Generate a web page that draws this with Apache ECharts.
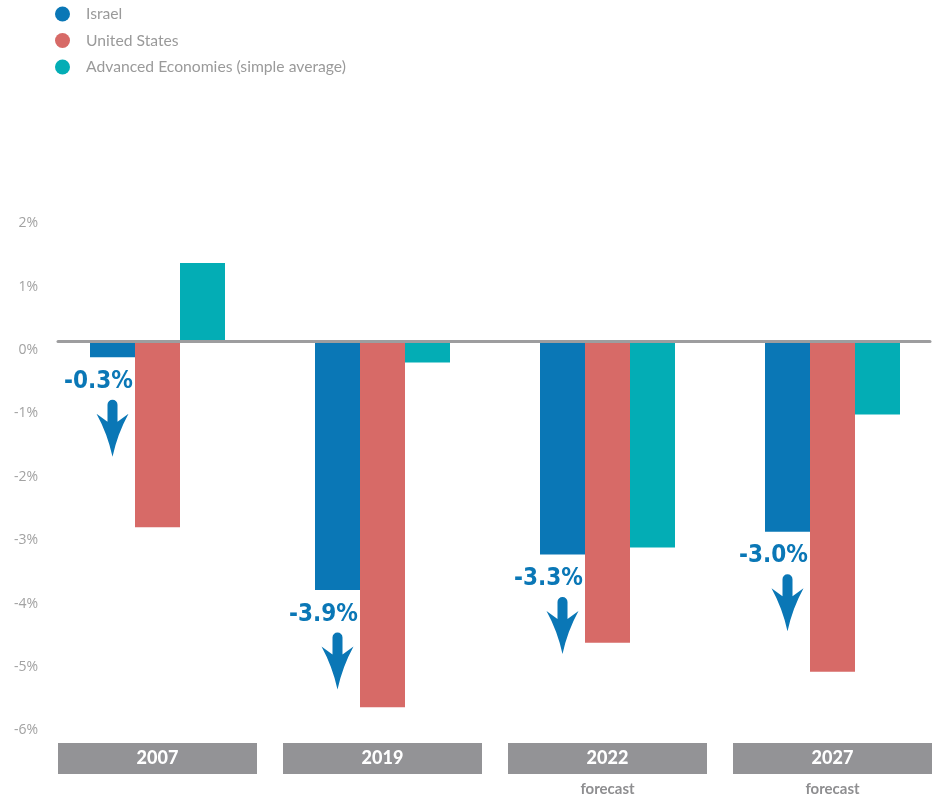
<!DOCTYPE html>
<html>
<head>
<meta charset="utf-8">
<script src="https://cdn.jsdelivr.net/npm/echarts@6/dist/echarts.min.js"></script>
<style>
html,body{margin:0;padding:0;background:#fff;}
#chart{width:938px;height:798px;}
</style>
</head>
<body>
<div id="chart"></div>
<script>
var categories = ['2007', '2019', '2022', '2027'];
var subLabels = ['', '', 'forecast', 'forecast'];
var seriesNames = ['Israel', 'United States', 'Advanced Economies (simple average)'];
var israel = [-0.25, -3.92, -3.36, -3.0];
var unitedStates = [-2.93, -5.77, -4.75, -5.21];
var advanced = [1.24, -0.33, -3.25, -1.15];
var israelLabels = ['-0.3%', '-3.9%', '-3.3%', '-3.0%'];
var yMin = -6, yMax = 2, yInterval = 1;

var colors = ['#0a77b6', '#d76a67', '#03adb5'];
var arrowPath = 'path://M11,5 A5,5 0 0 1 21,5 L21,22 L32,14 Q21,34 16,57 Q11,34 0,14 L11,22 Z';

var chart = echarts.init(document.getElementById('chart'), null, {renderer: 'canvas'});

var markData = categories.map(function (c, i) {
  return {
    coord: [c, israel[i]],
    symbol: arrowPath,
    symbolSize: [32, 57],
    symbolKeepAspect: false,
    symbolOffset: [0, 71],
    itemStyle: {color: colors[0]},
    label: {
      show: true,
      position: 'top',
      distance: 6,
      offset: [-14, 0],
      formatter: israelLabels[i]
    }
  };
});

var option = {
  animation: false,
  color: colors,
  legend: {
    orient: 'vertical',
    left: 50,
    top: 1,
    itemGap: 10.5,
    icon: 'circle',
    itemWidth: 15,
    itemHeight: 15,
    textStyle: {color: '#9a9a9a', fontSize: 15.7, fontFamily: 'Lato', padding: [0, 0, 0, 11]},
    data: seriesNames
  },
  grid: [
    {left: 45, width: 900, top: 214.7, bottom: 76.1, outerBoundsMode: 'none', containLabel: false},
    {left: 58, right: 8, top: 214.7, bottom: 76.1, outerBoundsMode: 'none', containLabel: false}
  ],
  xAxis: [
    {
      type: 'category',
      gridIndex: 0,
      data: categories,
      position: 'bottom',
      axisLine: {show: false, onZero: false},
      axisTick: {show: false},
      axisLabel: {
        margin: 21,
        interval: 0,
        formatter: function (v, idx) {
          var s = '{box|' + v + '}';
          if (subLabels[idx]) s += '\n{fc|' + subLabels[idx] + '}';
          return s;
        },
        rich: {
          box: {
            width: 199, height: 31, align: 'center',
            backgroundColor: '#939396', color: '#ffffff',
            fontSize: 18, fontWeight: 900, fontFamily: 'Lato',
            letterSpacing: 1.5,
            lineHeight: 31
          },
          fc: {
            color: '#8e8e90', fontSize: 15, fontWeight: 'bold',
            fontFamily: 'Lato', lineHeight: 31, align: 'center'
          }
        }
      }
    },
    {
      type: 'category',
      gridIndex: 1,
      data: categories,
      z: 5,
      axisLine: {show: true, onZero: true, lineStyle: {color: '#9d9d9f', width: 3}},
      axisTick: {show: false},
      axisLabel: {show: false}
    }
  ],
  yAxis: [
    {
      type: 'value',
      gridIndex: 0,
      min: yMin, max: yMax, interval: yInterval,
      splitLine: {show: false},
      axisLine: {show: false},
      axisTick: {show: false},
      axisLabel: {
        formatter: '{value}%',
        color: '#a2a2a2',
        fontSize: 14,
        fontFamily: 'Open Sans',
        margin: 7,
        verticalAlign: 'top',
        lineHeight: 17
      }
    },
    {
      type: 'value',
      gridIndex: 1,
      min: yMin, max: yMax, interval: yInterval,
      show: false
    }
  ],
  series: [
    {
      name: seriesNames[0], type: 'bar', data: israel,
      barWidth: 45, barGap: '0%',
      itemStyle: {color: colors[0]},
      markPoint: {
        label: {
          color: colors[0],
          fontSize: 24,
          fontWeight: 'bold',
          fontFamily: "'DejaVu Sans Condensed', 'Roboto Condensed', 'Liberation Sans Narrow', sans-serif",
          letterSpacing: -2
        },
        data: markData
      }
    },
    {
      name: seriesNames[1], type: 'bar', data: unitedStates,
      barWidth: 45, barGap: '0%',
      itemStyle: {color: colors[1]}
    },
    {
      name: seriesNames[2], type: 'bar', data: advanced,
      barWidth: 45, barGap: '0%',
      itemStyle: {color: colors[2]}
    }
  ]
};
chart.setOption(option);
</script>
</body>
</html>
